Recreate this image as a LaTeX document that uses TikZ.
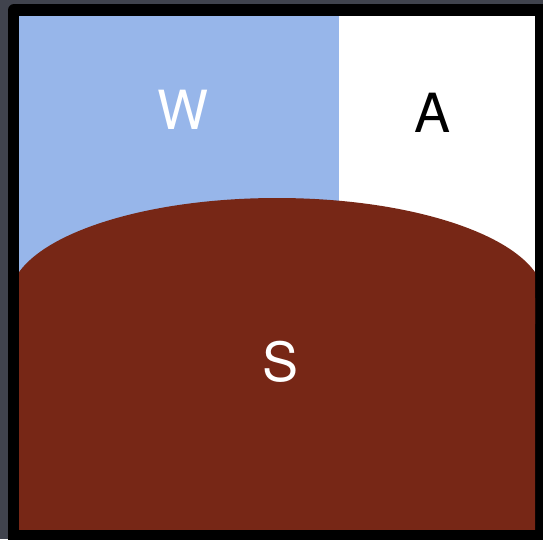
\documentclass[tikz,border=0pt]{standalone}
\usepackage{fontspec}
\setmainfont{TeX Gyre Heros}
\usetikzlibrary{positioning}
\definecolor{bgdark}{RGB}{64,67,77}
\definecolor{skyblue}{RGB}{151,182,234}
\definecolor{soilbrown}{RGB}{119,39,22}
\tikzset{
  region/.style={font=\fontsize{54}{64}\selectfont, inner sep=0pt},
  frame/.style={fill=black, rounded corners=6pt},
}
\begin{document}
\begin{tikzpicture}[x=1pt,y=-1pt]
  \useasboundingbox (0,0) rectangle (543,539);
  \fill[bgdark] (0,0) rectangle (543,539);
  \fill[frame] (8,4) rectangle (560,560);
  % air and water
  \fill[white] (19,16) rectangle (535,530);
  \fill[skyblue] (19,16) rectangle (339,300);
  % soil
  \begin{scope}
    \clip (19,16) rectangle (535,530);
    \fill[soilbrown] (277,298) ellipse [x radius=267, y radius=100];
    \fill[soilbrown] (0,298) rectangle (543,530);
  \end{scope}
  \node[region, text=white] (w) at (183,110) {W};
  \node[region] (a) at (433,113) {A};
  \node[region, text=white] (s) at (281,362) {S};
\end{tikzpicture}
\end{document}
